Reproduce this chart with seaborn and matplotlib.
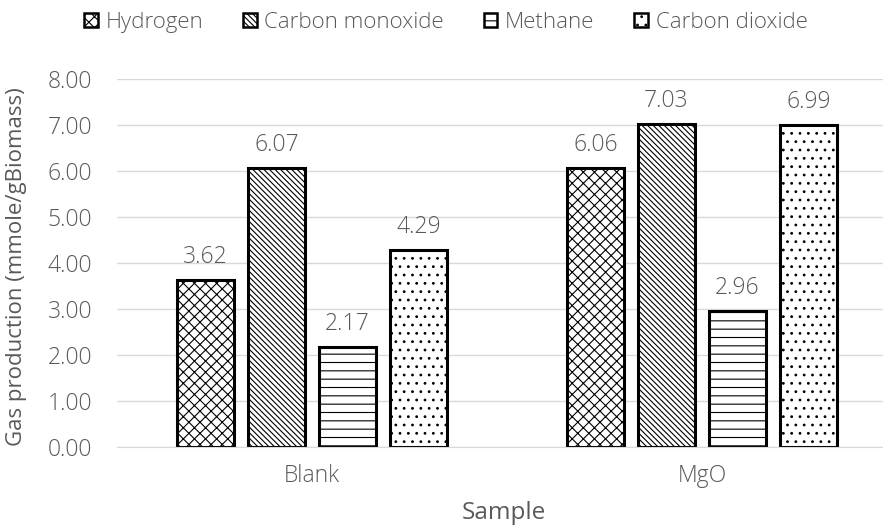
import matplotlib
matplotlib.use("Agg")
import matplotlib.pyplot as plt
import seaborn as sns
import pandas as pd
from matplotlib.patches import Patch

samples = ["Blank", "MgO"]
gases = ["Hydrogen", "Carbon monoxide", "Methane", "Carbon dioxide"]
hydrogen = [3.62, 6.06]
carbon_monoxide = [6.07, 7.03]
methane = [2.17, 2.96]
carbon_dioxide = [4.29, 6.99]
y_ticks = [0, 1, 2, 3, 4, 5, 6, 7, 8]

rows = []
for g, vals in zip(gases, [hydrogen, carbon_monoxide, methane, carbon_dioxide]):
    for s, v in zip(samples, vals):
        rows.append({"Sample": s, "Gas": g, "Value": v})
df = pd.DataFrame(rows)

sns.set_style("white")
plt.rcParams["font.family"] = ["Open Sans", "DejaVu Sans"]
plt.rcParams["font.weight"] = "light"
plt.rcParams["hatch.linewidth"] = 0.8
gray = "#595959"

fig = plt.figure(figsize=(8.83, 5.28), dpi=100)
ax = fig.add_axes([117 / 883, 81 / 528, (883 - 117) / 883, (447 - 79) / 528])

sns.barplot(data=df, x="Sample", y="Value", hue="Gas", order=samples, hue_order=gases,
            palette=["white"] * 4, width=0.728, gap=0.2, edgecolor="black",
            linewidth=2.2, ax=ax, legend=False)

hatches = ["xxx", "\\\\\\\\\\\\", "--", ".."]
for cont, h in zip(ax.containers, hatches):
    for bar in cont:
        bar.set_hatch(h)
        bar.set_facecolor("white")
    ax.bar_label(cont, fmt="%.2f", padding=8, color=gray, fontsize=16.5)

ax.set_xlim(-0.5, -0.5 + (883 - 117) / 390)
ax.set_ylim(0, 8)
ax.set_yticks(y_ticks)
ax.set_yticklabels([f"{t:.2f}" for t in y_ticks])
ax.yaxis.grid(True, color="#d9d9d9", linewidth=1)
ax.set_axisbelow(True)
for s in ["top", "right", "left"]:
    ax.spines[s].set_visible(False)
ax.spines["bottom"].set_color("#d9d9d9")
ax.tick_params(axis="both", length=0, colors=gray)
ax.tick_params(axis="y", pad=18, labelsize=16.5)
ax.tick_params(axis="x", pad=12, labelsize=16.5)
ax.set_xlabel("Sample", color=gray, fontsize=17.5)
ax.set_ylabel("Gas production (mmole/gBiomass)", color=gray, fontsize=16)
ax.xaxis.set_label_coords(0.505, -0.148)
ax.yaxis.set_label_coords(-0.118, 0.49)

handles = [Patch(facecolor="white", edgecolor="black", hatch=h, linewidth=1.8) for h in hatches]
fig.legend(handles, gases, loc="upper center", bbox_to_anchor=(0.505, 1.015), ncol=4,
           frameon=False, fontsize=16, labelcolor=gray, handlelength=0.6, handleheight=0.6,
           handletextpad=0.35, columnspacing=1.8)

fig.savefig("out.png", dpi=100)
